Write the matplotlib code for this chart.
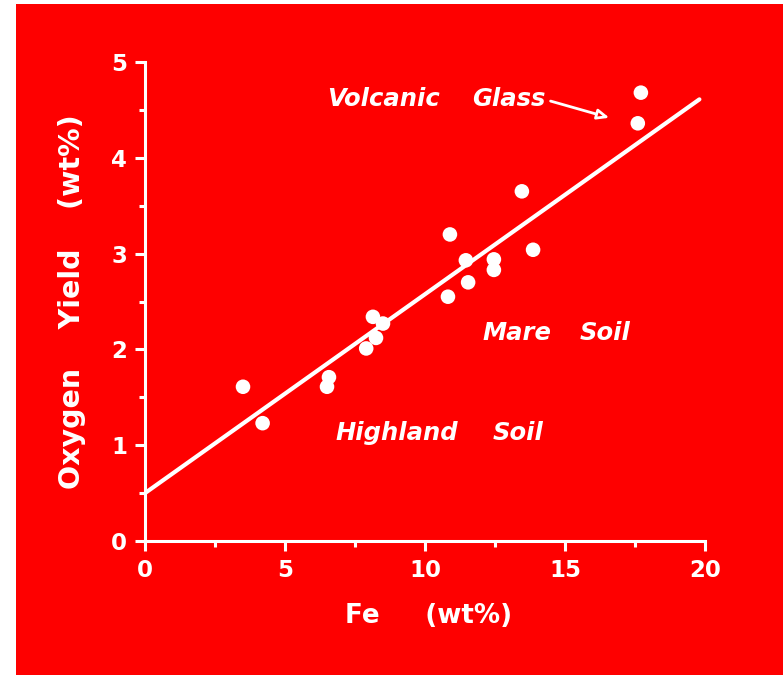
"""
Oxygen yield against iron content of lunar samples
"""

import matplotlib.pyplot as plt
from matplotlib.patches import Rectangle
from matplotlib.ticker import MultipleLocator

fe_wt = [3.5, 4.2, 6.5, 6.57, 7.9, 8.14, 8.25, 8.5,
         10.82, 10.89, 11.46, 11.54, 12.46, 12.46, 13.46, 13.86,
         17.6, 17.71]
oxygen_yield = [1.61, 1.23, 1.61, 1.71, 2.01, 2.34, 2.12, 2.27,
                2.55, 3.20, 2.93, 2.70, 2.94, 2.83, 3.65, 3.04,
                4.36, 4.68]

# fitted line end points
fit_fe = [0, 19.8]
fit_oxygen = [0.5, 4.61]

x_ticks = [0, 5, 10, 15, 20]
y_ticks = [0, 1, 2, 3, 4, 5]

red = "#fe0000"
white = "white"

plt.rcParams["font.family"] = ["DejaVu Sans"]
plt.rcParams["font.weight"] = "bold"

fig = plt.figure(figsize=(7.83, 6.75), dpi=100, facecolor="white")
fig.patches.append(Rectangle((16 / 783, 0), 1 - 16 / 783, 671 / 675,
                             transform=fig.transFigure, facecolor=red,
                             edgecolor="none", zorder=-1))

ax = fig.add_axes([145 / 783, 134 / 675, 560 / 783, 479 / 675])
ax.set_facecolor("none")

ax.plot(fit_fe, fit_oxygen, color=white, lw=3, solid_capstyle="round")
ax.scatter(fe_wt, oxygen_yield, s=110, color=white, edgecolors="none",
           zorder=3, clip_on=False)

ax.set_xlim(0, 20)
ax.set_ylim(0, 5)
ax.set_xticks(x_ticks)
ax.set_yticks(y_ticks)
ax.xaxis.set_minor_locator(MultipleLocator(2.5))
ax.yaxis.set_minor_locator(MultipleLocator(0.5))

for side in ["top", "right"]:
    ax.spines[side].set_visible(False)
for side in ["left", "bottom"]:
    ax.spines[side].set_color(white)
    ax.spines[side].set_linewidth(2.2)

ax.tick_params(which="major", direction="out", length=7, width=2.2,
               color=white, labelcolor=white, labelsize=16.5, pad=6)
ax.tick_params(which="minor", direction="out", length=4, width=2.2,
               color=white)
for lab in ax.get_xticklabels() + ax.get_yticklabels():
    lab.set_fontweight("bold")

ax.set_xlabel("Fe     (wt%)", color=white, fontsize=18.8, fontweight="bold")
ax.xaxis.set_label_coords(0.506, -0.13)
ax.set_ylabel("Oxygen    Yield    (wt%)", color=white, fontsize=20.5,
              fontweight="bold", labelpad=18)

# region labels
txt = dict(color=white, fontsize=17.5, fontweight="bold", style="italic",
           va="baseline", ha="left")
ax.text(6.5, 4.54, "Volcanic", **txt)
ax.text(11.68, 4.54, "Glass", **txt)
ax.text(12.07, 2.10, "Mare", **txt)
ax.text(15.54, 2.10, "Soil", **txt)
ax.text(6.79, 1.054, "Highland", **txt)
ax.text(12.43, 1.054, "Soil", **txt)

ax.annotate("", xy=(16.68, 4.41), xytext=(14.39, 4.60),
            arrowprops=dict(arrowstyle="-|>,head_length=0.7,head_width=0.3",
                            color=white, lw=2, fc=red))

fig.savefig("out.png", dpi=100, facecolor=fig.get_facecolor())
